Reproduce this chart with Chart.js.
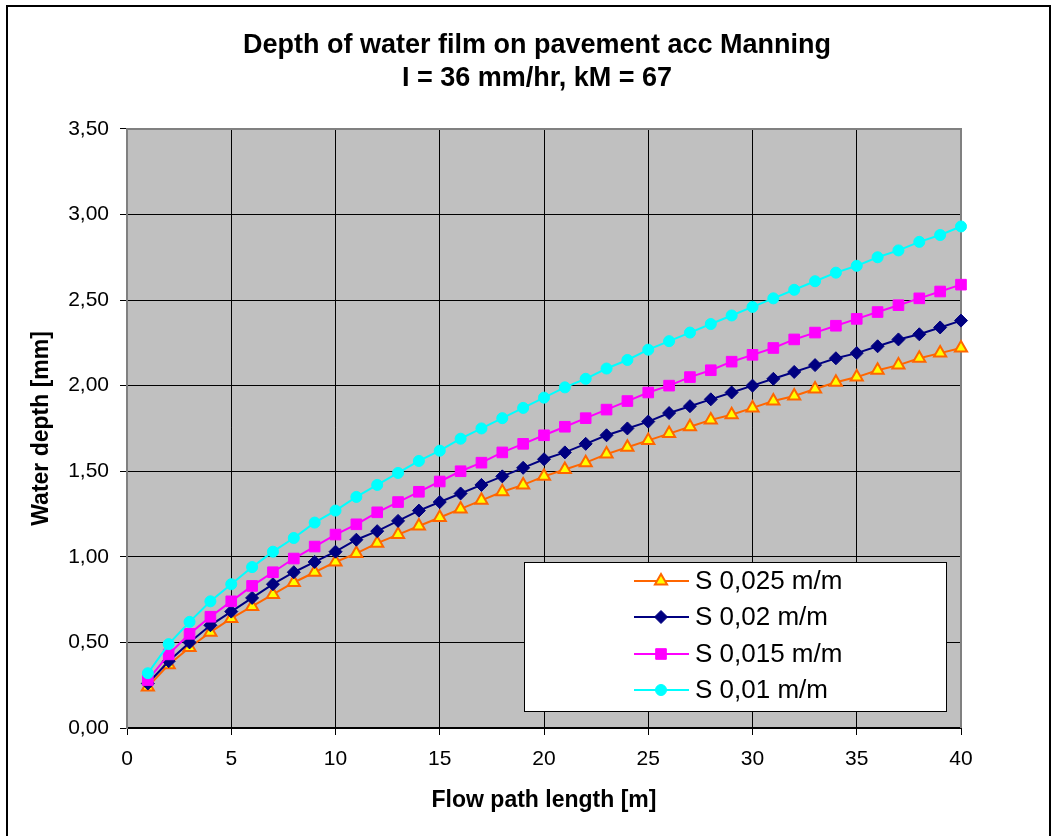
<!DOCTYPE html>
<html>
<head>
<meta charset="utf-8">
<script src="https://cdn.jsdelivr.net/npm/chart.js@4/dist/chart.umd.min.js"></script>
<style>
  html, body { margin: 0; padding: 0; background: #fff; }
  #wrap { width: 1053px; height: 836px; position: relative; }
</style>
</head>
<body>
<div id="wrap"><canvas id="waterChart" width="1053" height="836"></canvas></div>

<script>
// flow path length [m]
var flowLength = [1, 2, 3, 4, 5, 6, 7, 8, 9, 10, 11, 12, 13, 14, 15, 16, 17, 18, 19, 20,
                  21, 22, 23, 24, 25, 26, 27, 28, 29, 30, 31, 32, 33, 34, 35, 36, 37, 38, 39, 40];

// water depth [mm] per slope
var depthS0025 = [0.24, 0.37, 0.47, 0.56, 0.64, 0.71, 0.78, 0.85, 0.91, 0.97, 1.02, 1.08, 1.13, 1.18, 1.23, 1.28, 1.33, 1.38, 1.42, 1.47,
                  1.51, 1.55, 1.60, 1.64, 1.68, 1.72, 1.76, 1.80, 1.83, 1.87, 1.91, 1.94, 1.98, 2.02, 2.05, 2.09, 2.12, 2.16, 2.19, 2.22];
var depthS002  = [0.26, 0.39, 0.50, 0.60, 0.68, 0.76, 0.84, 0.91, 0.97, 1.03, 1.10, 1.15, 1.21, 1.27, 1.32, 1.37, 1.42, 1.47, 1.52, 1.57,
                  1.61, 1.66, 1.71, 1.75, 1.79, 1.84, 1.88, 1.92, 1.96, 2.00, 2.04, 2.08, 2.12, 2.16, 2.19, 2.23, 2.27, 2.30, 2.34, 2.38];
var depthS0015 = [0.28, 0.43, 0.55, 0.65, 0.74, 0.83, 0.91, 0.99, 1.06, 1.13, 1.19, 1.26, 1.32, 1.38, 1.44, 1.50, 1.55, 1.61, 1.66, 1.71,
                  1.76, 1.81, 1.86, 1.91, 1.96, 2.00, 2.05, 2.09, 2.14, 2.18, 2.22, 2.27, 2.31, 2.35, 2.39, 2.43, 2.47, 2.51, 2.55, 2.59];
var depthS001  = [0.32, 0.49, 0.62, 0.74, 0.84, 0.94, 1.03, 1.11, 1.20, 1.27, 1.35, 1.42, 1.49, 1.56, 1.62, 1.69, 1.75, 1.81, 1.87, 1.93,
                  1.99, 2.04, 2.10, 2.15, 2.21, 2.26, 2.31, 2.36, 2.41, 2.46, 2.51, 2.56, 2.61, 2.66, 2.70, 2.75, 2.79, 2.84, 2.88, 2.93];

var seriesNames = ['S 0,025 m/m', 'S 0,02 m/m', 'S 0,015 m/m', 'S 0,01 m/m'];
var xTicks = [0, 5, 10, 15, 20, 25, 30, 35, 40];
var yTicks = [0, 0.5, 1, 1.5, 2, 2.5, 3, 3.5];

var FONT = 'Arial, "Liberation Sans", sans-serif';

function pts(arr) {
    return flowLength.map(function (x, i) { return {x: x, y: arr[i]}; });
}

// grey plot area, frame, outer border and boxed legend
var excelLook = {
    id: 'excelLook',
    beforeDraw: function (chart) {
        var ctx = chart.ctx, a = chart.chartArea;
        ctx.save();
        ctx.fillStyle = '#fff';
        ctx.fillRect(0, 0, chart.width, chart.height);
        ctx.fillStyle = '#C0C0C0';
        ctx.fillRect(a.left, a.top, a.right - a.left, a.bottom - a.top);
        ctx.strokeStyle = '#000';
        ctx.lineWidth = 2;
        ctx.strokeRect(7, 6, 1043, 840);
        ctx.restore();
    },
    beforeDatasetsDraw: function (chart) {
        var ctx = chart.ctx, a = chart.chartArea;
        ctx.save();
        ctx.strokeStyle = '#808080';
        ctx.lineWidth = 2;
        ctx.beginPath();
        ctx.moveTo(a.left, a.top);
        ctx.lineTo(a.right, a.top);
        ctx.lineTo(a.right, a.bottom);
        ctx.stroke();
        ctx.restore();
    },
    afterDraw: function (chart) {
        var ctx = chart.ctx;
        ctx.save();
        ctx.fillStyle = '#fff';
        ctx.fillRect(524, 562, 423, 150);
        ctx.strokeStyle = '#000';
        ctx.lineWidth = 1;
        ctx.strokeRect(524.5, 562.5, 422, 149);
        var rows = [581, 617, 654, 690];
        chart.data.datasets.forEach(function (ds, i) {
            var y = rows[i];
            ctx.strokeStyle = ds.borderColor;
            ctx.lineWidth = 2;
            ctx.beginPath();
            ctx.moveTo(634, y);
            ctx.lineTo(689, y);
            ctx.stroke();
            ctx.fillStyle = ds.pointBackgroundColor;
            ctx.strokeStyle = ds.pointBorderColor;
            ctx.lineWidth = ds.pointBorderWidth;
            Chart.helpers.drawPoint(ctx, {pointStyle: ds.pointStyle, radius: ds.pointRadius, borderWidth: ds.pointBorderWidth, rotation: 0}, 661, y);
            ctx.fillStyle = '#000';
            ctx.font = '26px ' + FONT;
            ctx.textAlign = 'left';
            ctx.textBaseline = 'middle';
            ctx.fillText(ds.label, 695, y + 1);
        });
        ctx.restore();
    }
};

var ctx = document.getElementById('waterChart');
new Chart(ctx, {
    type: 'line',
    data: {
        datasets: [{
            label: seriesNames[0],
            data: pts(depthS0025),
            borderColor: '#FF6600',
            backgroundColor: '#FFFF00',
            pointStyle: 'triangle',
            pointRadius: 7,
            pointBackgroundColor: '#FFFF00',
            pointBorderColor: '#FF6600',
            pointBorderWidth: 2,
            order: 4
        }, {
            label: seriesNames[1],
            data: pts(depthS002),
            borderColor: '#000080',
            backgroundColor: '#000080',
            pointStyle: 'rectRot',
            pointRadius: 6.5,
            pointBackgroundColor: '#000080',
            pointBorderColor: '#000080',
            pointBorderWidth: 1,
            order: 3
        }, {
            label: seriesNames[2],
            data: pts(depthS0015),
            borderColor: '#FF00FF',
            backgroundColor: '#FF00FF',
            pointStyle: 'rect',
            pointRadius: 7.5,
            pointBackgroundColor: '#FF00FF',
            pointBorderColor: '#FF00FF',
            pointBorderWidth: 1,
            order: 2
        }, {
            label: seriesNames[3],
            data: pts(depthS001),
            borderColor: '#00FFFF',
            backgroundColor: '#00FFFF',
            pointStyle: 'circle',
            pointRadius: 5.5,
            pointBackgroundColor: '#00FFFF',
            pointBorderColor: '#00FFFF',
            pointBorderWidth: 1,
            order: 1
        }]
    },
    options: {
        responsive: false,
        animation: false,
        devicePixelRatio: 1,
        clip: false,
        elements: {
            line: {borderWidth: 2, tension: 0},
            point: {hoverRadius: 7}
        },
        layout: {padding: {left: 21, right: 0, top: 0, bottom: 0}},
        plugins: {
            legend: {display: false},
            tooltip: {enabled: false},
            title: {
                display: true,
                text: ['Depth of water film on pavement acc Manning', 'I = 36 mm/hr, kM = 67'],
                color: '#000',
                font: {family: FONT, size: 27, weight: 'bold', lineHeight: 1.22},
                padding: {top: 29, bottom: 34}
            }
        },
        scales: {
            x: {
                type: 'linear',
                min: 0,
                max: 40,
                afterBuildTicks: function (s) { s.ticks = xTicks.map(function (v) { return {value: v}; }); },
                afterFit: function (s) { s.height = 108; },
                grid: {color: '#000', lineWidth: 1, tickLength: 7, tickColor: '#000'},
                border: {color: '#000', width: 2},
                ticks: {color: '#000', font: {family: FONT, size: 21}, padding: 12, maxRotation: 0},
                title: {
                    display: true,
                    text: 'Flow path length [m]',
                    color: '#000',
                    font: {family: FONT, size: 23, weight: 'bold'},
                    padding: {top: 0, bottom: 22}
                }
            },
            y: {
                type: 'linear',
                min: 0,
                max: 3.5,
                afterBuildTicks: function (s) { s.ticks = yTicks.map(function (v) { return {value: v}; }); },
                afterFit: function (s) { s.width = 106; },
                grid: {color: '#000', lineWidth: 1, tickLength: 7, tickColor: '#000'},
                border: {color: '#808080', width: 2},
                ticks: {
                    color: '#000',
                    font: {family: FONT, size: 21},
                    padding: 11,
                    callback: function (v) { return Number(v).toFixed(2).replace('.', ','); }
                },
                title: {
                    display: true,
                    text: 'Water depth [mm]',
                    color: '#000',
                    font: {family: FONT, size: 23, weight: 'bold'},
                    padding: {top: 7, bottom: 0}
                }
            },
            // empty right-hand margin so the title centres over the whole figure
            yPad: {
                type: 'linear',
                position: 'right',
                min: 0,
                max: 1,
                afterFit: function (s) { s.width = 92; },
                grid: {display: false},
                border: {display: false},
                ticks: {display: false},
                title: {display: false}
            }
        }
    },
    plugins: [excelLook]
});
</script>
</body>
</html>
